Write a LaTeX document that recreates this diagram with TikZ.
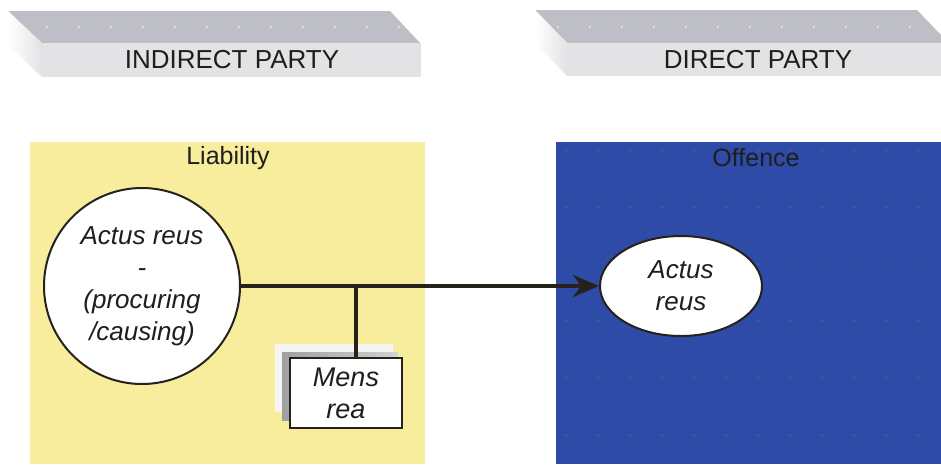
\documentclass[tikz,border=0pt]{standalone}
\usepackage{fontspec}
\setmainfont{Liberation Sans}
\usetikzlibrary{arrows.meta,shapes.geometric}
\definecolor{barTop}{HTML}{BEBEC7}
\definecolor{barFront}{HTML}{E3E3E6}
\definecolor{liabYellow}{HTML}{F8EC9D}
\definecolor{offBlue}{HTML}{2D4BA7}
\definecolor{txtDark}{HTML}{1E1E1E}
\definecolor{lineDark}{HTML}{26221A}
\tikzset{
  partylabel/.style={font=\fontsize{26}{30}\selectfont, text=txtDark, inner sep=0pt},
  boxtitle/.style={font=\fontsize{25}{29}\selectfont, text=txtDark, inner sep=0pt},
  conceptnode/.style={draw=lineDark, line width=2pt, fill=white, align=center, inner sep=0pt,
    font=\fontsize{26}{32}\selectfont\itshape, text=txtDark},
  link/.style={draw=lineDark, line width=3.5pt}
}
\begin{document}
\begin{tikzpicture}[x=1pt,y=-1pt]
\useasboundingbox (0,0) rectangle (941,464);
\pgfmathsetmacro{\ky}{33}
\pgfmathsetmacro{\kdx}{33}
%bar for the indirect party
\fill[barTop] (8,11)--++(382,0)--++(\kdx-2,\ky)--++(-379,0)--cycle;
\shade[left color=white,right color=barFront] (8,11)--++(\kdx+1,\ky-1)--++(0,34)--++(-\kdx-1,-\ky+1)--cycle;
\fill[barFront] (42,43) rectangle (421,77);
\foreach \i in {0,...,11} \fill[white] (47+32*\i,27) circle (0.9);
\node[partylabel] (indirect) at (232,60) {INDIRECT PARTY};
%bar for the direct party
\fill[barTop] (535,10)--++(382,0)--++(24,25)--++(0,8)--++(-374,0)--cycle;
\shade[left color=white,right color=barFront] (535,10)--++(32,33)--++(0,33)--++(-32,-33)--cycle;
\fill[barFront] (567,43) rectangle (941,76);
\foreach \i in {0,...,11} \fill[white] (558+32*\i,27) circle (0.9);
\node[partylabel] (direct) at (758,60) {DIRECT PARTY};
%the two boxes
\fill[liabYellow] (30,142) rectangle (425,464);
\fill[offBlue] (556,142) rectangle (941,464);
\foreach \r in {0,...,5}
  \foreach \i in {0,...,11}
    \fill[white,opacity=0.35] (566+32*\i,150+57*\r) circle (0.7);
\node[boxtitle] (liab) at (228,158) {Liability};
\node[boxtitle] (offence) at (756,158) {Offence};
%stacked sheets behind mens rea
\fill[white!92!gray] (275,344) rectangle (393,412);
\shade[left color=gray!75,right color=gray!35] (282,352) rectangle (398,420);
%concepts
\node[conceptnode,circle,minimum size=196pt] (arind) at (142,286) {Actus reus\\-\\(procuring\\/causing)};
\node[conceptnode,ellipse,minimum width=162pt,minimum height=100pt] (ardir) at (681,286) {Actus\\reus};
\node[conceptnode,rectangle,minimum width=112pt,minimum height=70pt,font=\fontsize{27}{32}\selectfont\itshape] (mens) at (346,393) {Mens\\rea};
%connectors
\draw[link,-{Stealth[length=26pt,width=22pt,inset=8pt]}] (arind.east) -- (ardir.west);
\coordinate (joint) at (356,286);
\draw[link] (joint) -- (joint |- mens.north);
\end{tikzpicture}
\end{document}
